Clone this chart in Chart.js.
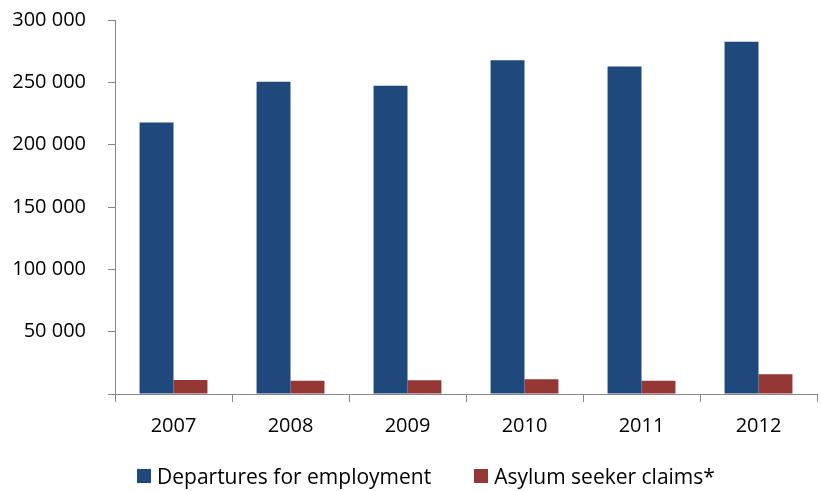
<!DOCTYPE html>
<html>
<head>
<meta charset="utf-8">
<script src="https://cdn.jsdelivr.net/npm/chart.js@4"></script>
<style>
  html, body { margin: 0; padding: 0; background: #fff; }
  #wrap { position: relative; width: 821px; height: 491px; }
  #legend {
    position: absolute; left: 137px; top: 464px;
    display: flex; align-items: center;
    font: 21px "Open Sans", sans-serif; line-height: 24px; color: #000;
  }
  #legend .item { display: flex; align-items: center; margin-right: 43px; }
  #legend .box { width: 14px; height: 14px; margin-right: 6px; }
</style>
</head>
<body>
<div id="wrap">
  <canvas id="chart"></canvas>
  <div id="legend"></div>
</div>
<script>
// Data
const years = ["2007", "2008", "2009", "2010", "2011", "2012"];
const employment = [217700, 250400, 247200, 267800, 262700, 282600];
const asylum = [11300, 10700, 11000, 11800, 10700, 15800];
const yTicks = [0, 50000, 100000, 150000, 200000, 250000, 300000];

const FONT = "'Open Sans', sans-serif";

// "300 000" style thousands separator, zero left blank
function fmt(v) {
  return v === 0 ? "" : String(v).replace(/\B(?=(\d{3})+(?!\d))/g, " ");
}

// Legend rendered as HTML from the chart's own legend items
const htmlLegend = {
  id: "htmlLegend",
  afterUpdate(chart) {
    const box = document.getElementById("legend");
    box.innerHTML = "";
    const items = chart.options.plugins.legend.labels.generateLabels(chart);
    items.forEach(it => {
      const row = document.createElement("div");
      row.className = "item";
      const sw = document.createElement("span");
      sw.className = "box";
      sw.style.background = it.fillStyle;
      const txt = document.createElement("span");
      txt.textContent = it.text;
      row.appendChild(sw);
      row.appendChild(txt);
      box.appendChild(row);
    });
  }
};

new Chart(document.getElementById("chart"), {
  type: "bar",
  data: {
    labels: years,
    datasets: [
      { label: "Departures for employment", data: employment, backgroundColor: "#1f497d" },
      { label: "Asylum seeker claims*", data: asylum, backgroundColor: "#953735" }
    ]
  },
  options: {
    responsive: true,
    maintainAspectRatio: false,
    animation: false,
    categoryPercentage: 0.58,
    barPercentage: 1,
    layout: { padding: { top: 0, right: 4, left: 0, bottom: 41 } },
    plugins: {
      tooltip: { enabled: false },
      legend: { display: false }
    },
    scales: {
      x: {
        grid: { drawOnChartArea: false, offset: true, tickLength: 8, color: "#888" },
        border: { color: "#888" },
        ticks: { color: "#000", padding: 12, font: { family: FONT, size: 20 } }
      },
      y: {
        min: 0,
        max: 300000,
        afterBuildTicks: axis => { axis.ticks = yTicks.map(v => ({ value: v })); },
        afterFit: axis => {
          axis.width = 115;
          // the label gap is wide, keep it from pushing the plot top down
          axis.paddingTop = 20;
          axis.paddingBottom = 12;
        },
        grid: { drawOnChartArea: false, tickLength: 7, color: "#888" },
        border: { color: "#888" },
        ticks: {
          color: "#000",
          padding: 22,
          font: { family: FONT, size: 20 },
          callback: v => fmt(v)
        }
      }
    }
  },
  plugins: [htmlLegend]
});
</script>
</body>
</html>
